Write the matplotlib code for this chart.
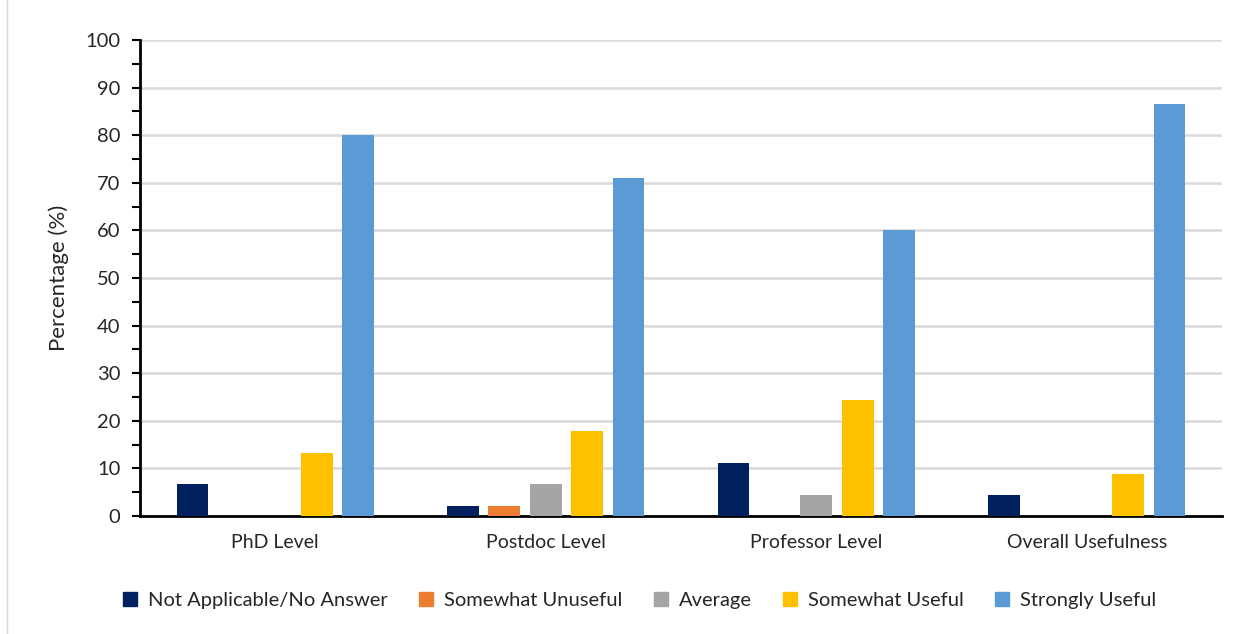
import numpy as np
import matplotlib.pyplot as plt
from matplotlib.lines import Line2D

plt.rcParams['font.family'] = ['Lato', 'DejaVu Sans']

categories = ["PhD Level", "Postdoc Level", "Professor Level", "Overall Usefulness"]
series_names = ["Not Applicable/No Answer", "Somewhat Unuseful", "Average",
                "Somewhat Useful", "Strongly Useful"]
not_applicable = [6.7, 2.2, 11.1, 4.5]
somewhat_unuseful = [0, 2.2, 0, 0]
average = [0, 6.7, 4.4, 0]
somewhat_useful = [13.3, 17.8, 24.4, 8.9]
strongly_useful = [80.0, 71.1, 60.0, 86.6]
colors = ["#002060", "#ED7D31", "#A5A5A5", "#FFC000", "#5B9BD5"]

values = [not_applicable, somewhat_unuseful, average, somewhat_useful, strongly_useful]

fig = plt.figure(figsize=(12.44, 6.34), dpi=100)
ax = fig.add_axes([140 / 1244, 1 - 516 / 634, 1082 / 1244, 476 / 634])

x = np.arange(len(categories))
step = 0.153
width = 0.118
for i, (vals, name, c) in enumerate(zip(values, series_names, colors)):
    ax.bar(x + (i - 2) * step, vals, width, color=c, label=name, zorder=3)

ax.set_xlim(-0.5, len(categories) - 0.5)
ax.set_ylim(0, 100)
ax.set_yticks(np.arange(0, 101, 10))
ax.set_yticks(np.arange(5, 100, 10), minor=True)
ax.yaxis.grid(True, color="#D9D9D9", linewidth=1.8, zorder=0)
ax.set_xticks(x)
ax.set_xticklabels(categories)
ax.tick_params(axis="x", length=0, pad=13, labelsize=14)
ax.tick_params(axis="y", which="major", length=6, width=1.5, labelsize=14.5, pad=8)
ax.tick_params(axis="y", which="minor", length=6, width=1.5)
for lab in ax.get_yticklabels() + ax.get_xticklabels():
    lab.set_color("#262626")

for s in ["top", "right"]:
    ax.spines[s].set_visible(False)
ax.spines["left"].set_linewidth(2)
ax.spines["bottom"].set_linewidth(2)
ax.set_ylabel("Percentage (%)", fontsize=16, color="#262626", labelpad=12)

handles = [Line2D([0], [0], marker="s", linestyle="none", markersize=10,
                  markerfacecolor=c, markeredgecolor=c) for c in colors]
fig.legend(handles, series_names, loc="center", bbox_to_anchor=(0.509, 1 - 600 / 634),
           ncol=5, frameon=False, fontsize=14.5, handletextpad=-0.1,
           columnspacing=0.9, labelcolor="#262626")

fig.add_artist(Line2D([7 / 1244, 7 / 1244], [0, 1], transform=fig.transFigure,
                      color="#D9D9D9", linewidth=1))

fig.savefig("out.png", dpi=100)
